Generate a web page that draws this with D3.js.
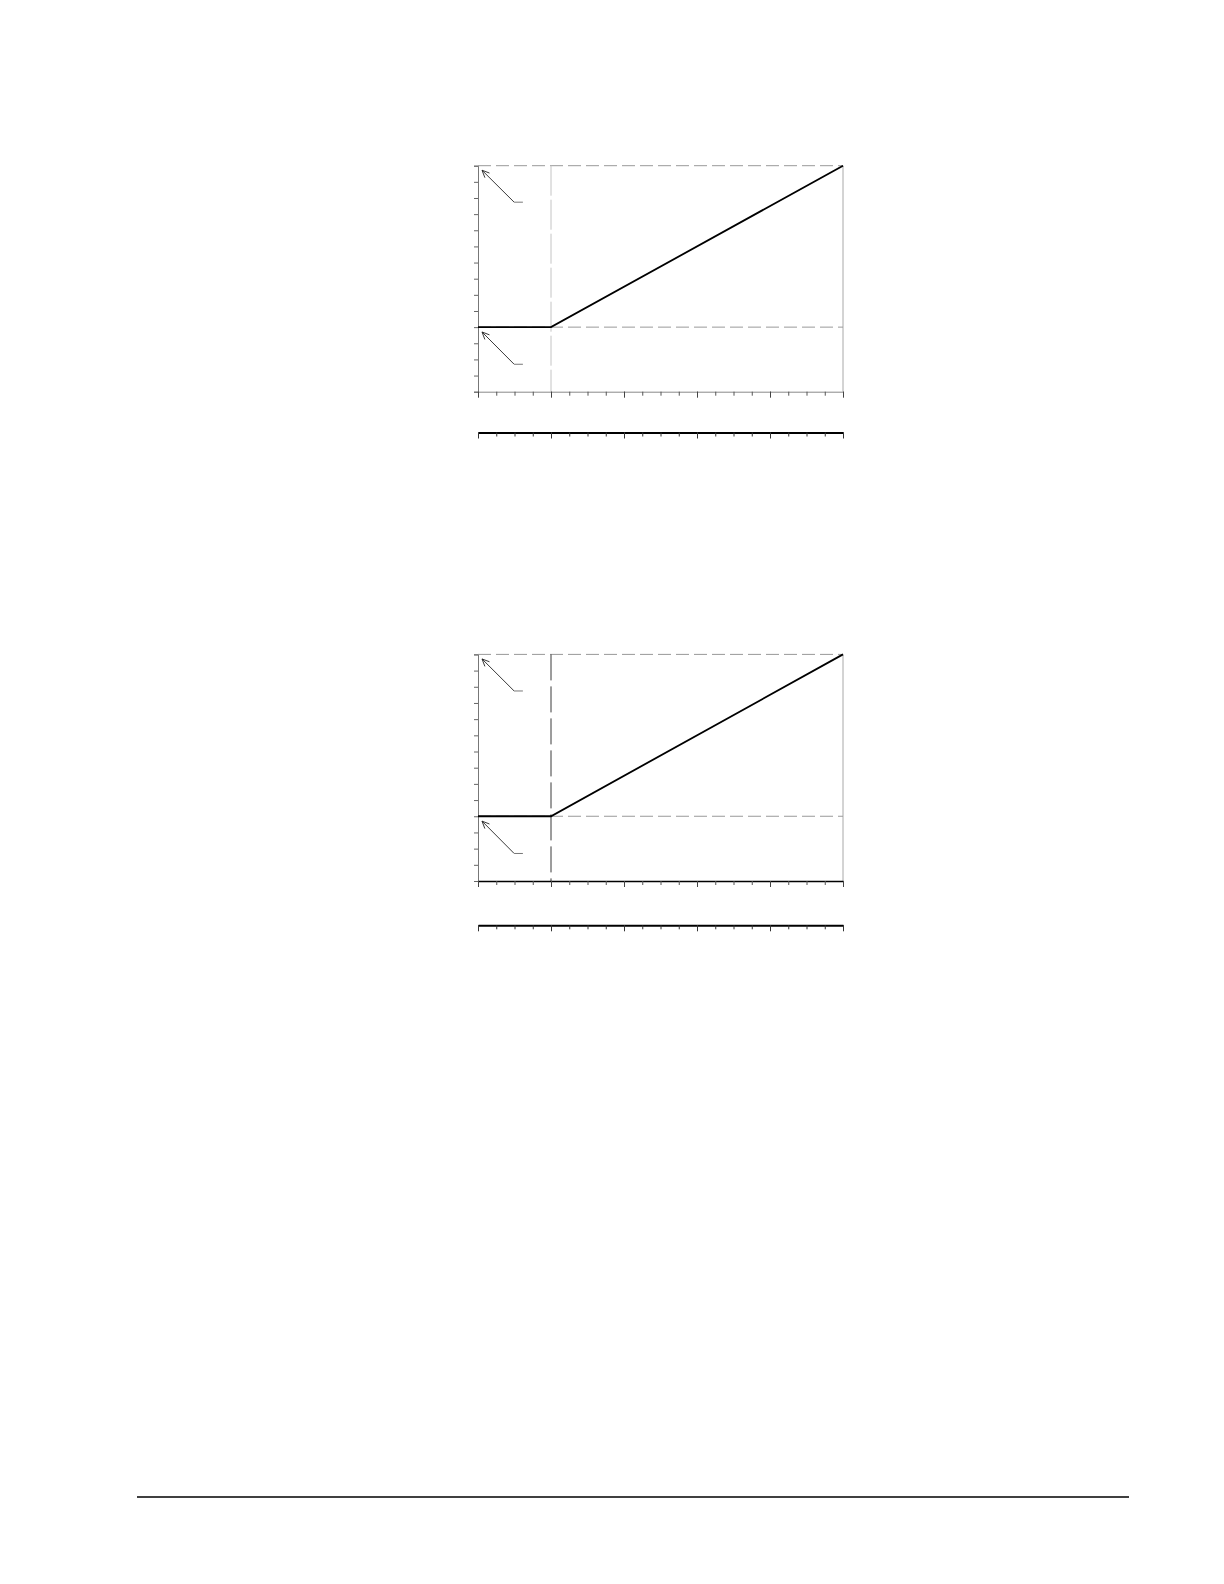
<!DOCTYPE html>
<html lang="en">

<head>
    <meta charset="UTF-8">
    <title>Two ramp charts</title>
    <style>
        body {
            margin: 0;
            padding: 0;
            background: #fff;
            font-family: "Liberation Sans", Arial, sans-serif;
        }

        svg {
            display: block;
        }
    </style>
</head>

<body>
    <svg id="page" width="1224" height="1584"></svg>

    <script src="https://cdnjs.cloudflare.com/ajax/libs/d3/7.9.0/d3.min.js"></script>
    <script>
        // data (same curve in both charts)
        const xTicks = [0, 1, 2, 3, 4, 5, 6, 7, 8, 9, 10, 11, 12, 13, 14, 15, 16, 17, 18, 19, 20];
        const xMajorTicks = [0, 4, 8, 12, 16, 20];
        const yTicks = [-4, -3, -2, -1, 0, 1, 2, 3, 4, 5, 6, 7, 8, 9, 10];
        const curveX = [0, 4, 20];
        const curveY = [0, 0, 10];
        const kneeX = 4;
        const refLevels = [10, 0];

        // callout arrows: [head, bend, end] in data units
        const calloutUpper = [[0.22, 9.72], [1.98, 7.74], [2.46, 7.74]];
        const calloutLower = [[0.22, -0.3], [1.98, -2.3], [2.46, -2.3]];

        const svg = d3.select('#page');

        function drawChart(opts) {
            const x = d3.scaleLinear().domain([xTicks[0], xTicks[xTicks.length - 1]]).range([478, 843]);
            const y = d3.scaleLinear().domain([yTicks[0], yTicks[yTicks.length - 1]]).range([opts.bottom, opts.top]);

            const g = svg.append('g');

            // right frame
            g.append('line')
                .attr('x1', x(20)).attr('x2', x(20))
                .attr('y1', y(10)).attr('y2', y(-4))
                .attr('stroke', '#a8a8a8').attr('stroke-width', 1);

            // dashed reference levels (top and zero)
            g.selectAll('.ref')
                .data(refLevels)
                .enter().append('line')
                .attr('class', 'ref')
                .attr('x1', x(0)).attr('x2', x(20))
                .attr('y1', d => y(d)).attr('y2', d => y(d))
                .attr('stroke', '#999')
                .attr('stroke-width', 1)
                .attr('stroke-dasharray', '13,5');

            // vertical at the knee
            g.append('line')
                .attr('x1', x(kneeX)).attr('x2', x(kneeX))
                .attr('y1', y(10)).attr('y2', y(-4))
                .attr('stroke', opts.kneeColor)
                .attr('stroke-width', 1)
                .attr('stroke-dasharray', opts.kneeDash);

            // y axis
            const yAxis = g.append('g')
                .attr('transform', `translate(${x(0)},0)`)
                .call(d3.axisLeft(y).tickValues(yTicks).tickSize(4).tickFormat(''));
            yAxis.select('.domain').attr('stroke', '#777');
            yAxis.selectAll('.tick line').attr('stroke', '#666');

            // x axis: minor + major ticks
            const xAxis = g.append('g')
                .attr('transform', `translate(0,${y(-4)})`)
                .call(d3.axisBottom(x).tickValues(xTicks).tickSize(4).tickSizeOuter(0).tickFormat(''));
            xAxis.select('.domain').attr('stroke', opts.xAxisColor).attr('stroke-width', opts.xAxisWidth);
            xAxis.selectAll('.tick line').attr('stroke', '#555');
            g.append('g')
                .attr('transform', `translate(0,${y(-4)})`)
                .call(d3.axisBottom(x).tickValues(xMajorTicks).tickSize(6).tickFormat(''))
                .call(a => a.select('.domain').remove())
                .selectAll('.tick line').attr('stroke', '#444');

            // second (lower) axis
            const lower = g.append('g')
                .attr('transform', `translate(0,${opts.lowerAxis})`)
                .call(d3.axisBottom(x).tickValues(xTicks).tickSize(4).tickSizeOuter(0).tickFormat(''));
            lower.select('.domain').attr('stroke', '#000').attr('stroke-width', 2);
            lower.selectAll('.tick line').attr('stroke', '#333');
            g.append('g')
                .attr('transform', `translate(0,${opts.lowerAxis})`)
                .call(d3.axisBottom(x).tickValues(xMajorTicks).tickSize(6).tickFormat(''))
                .call(a => a.select('.domain').remove())
                .selectAll('.tick line').attr('stroke', '#333');

            // the curve
            const line = d3.line().x(d => x(d[0])).y(d => y(d[1]));
            g.append('path')
                .datum(d3.zip(curveX, curveY))
                .attr('d', line)
                .attr('fill', 'none')
                .attr('stroke', '#000')
                .attr('stroke-width', 1.8);

            // callout arrows
            [calloutUpper, calloutLower].forEach(pts => {
                const p = pts.map(d => [x(d[0]), y(d[1])]);
                g.append('line')
                    .attr('x1', p[0][0]).attr('y1', p[0][1])
                    .attr('x2', p[1][0]).attr('y2', p[1][1])
                    .attr('stroke', '#222').attr('stroke-width', 0.9);
                g.append('line')
                    .attr('x1', p[1][0]).attr('y1', p[1][1])
                    .attr('x2', p[2][0]).attr('y2', p[2][1])
                    .attr('stroke', '#777').attr('stroke-width', 1);
                // open arrow head at the tip
                const ang = Math.atan2(p[1][1] - p[0][1], p[1][0] - p[0][0]);
                const len = 8, spread = 0.42;
                const head = [ang - spread, ang + spread].map(a => [p[0][0] + len * Math.cos(a), p[0][1] + len * Math.sin(a)]);
                g.append('path')
                    .attr('d', `M${head[0][0]},${head[0][1]}L${p[0][0]},${p[0][1]}L${head[1][0]},${head[1][1]}`)
                    .attr('fill', 'none')
                    .attr('stroke', '#222')
                    .attr('stroke-width', 0.9);
            });
        }

        drawChart({ top: 165.7, bottom: 391.7, lowerAxis: 432.5, kneeColor: '#c4c4c4', kneeDash: '30,4', xAxisColor: '#888', xAxisWidth: 1 });
        drawChart({ top: 654.4, bottom: 881, lowerAxis: 925.3, kneeColor: '#3a3a3a', kneeDash: '26,6', xAxisColor: '#000', xAxisWidth: 1.5 });

        // footer rule
        svg.append('line')
            .attr('x1', 137).attr('x2', 1129)
            .attr('y1', 1497).attr('y2', 1497)
            .attr('stroke', '#000')
            .attr('stroke-width', 1.5);
    </script>
</body>

</html>
